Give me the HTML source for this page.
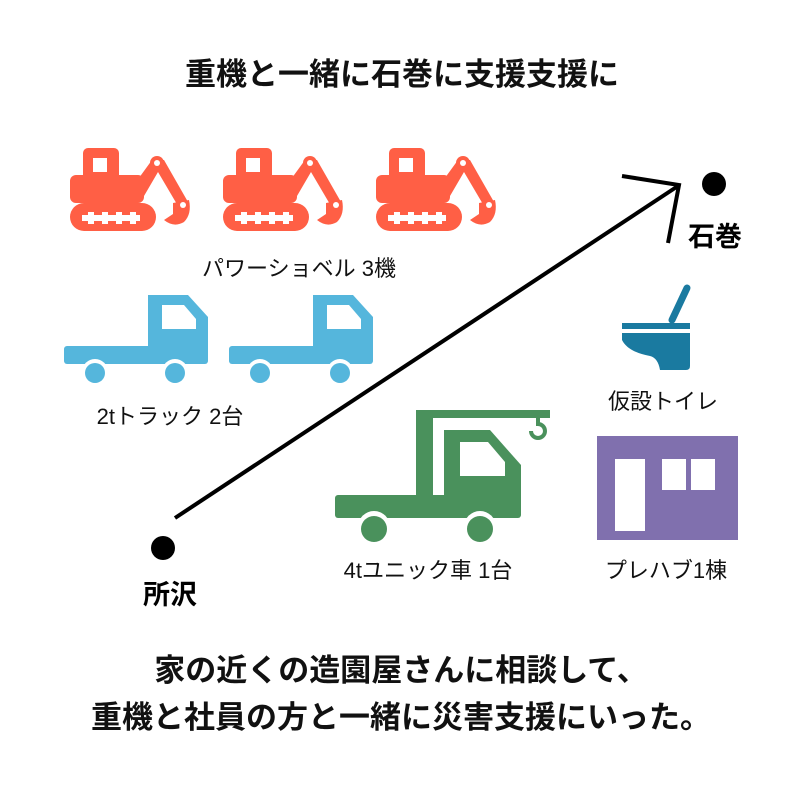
<!DOCTYPE html>
<html><head><meta charset="utf-8"><style>
html,body{margin:0;padding:0;background:#fff;}
svg{display:block}
text{font-family:"Liberation Sans","Noto Sans CJK JP",sans-serif;}
</style></head><body>
<svg width="800" height="800" viewBox="0 0 800 800">
<defs>
<g id="ex">
  <rect x="13" y="0" width="36" height="55" rx="5" fill="#ff5f45"/>
  <rect x="23" y="10" width="14" height="14" fill="#fff"/>
  <rect x="0" y="27" width="74" height="28" rx="6" fill="#ff5f45"/>
  <path d="M66 34 L82 12 L94 12 L118 54 L108 58 L88 24 L74 48 Z" fill="#ff5f45"/>
  <circle cx="87" cy="15" r="7" fill="#ff5f45"/><circle cx="87" cy="15" r="3" fill="#fff"/>
  <path d="M103 55 L119 52 Q122 66 114 74 Q104 80 94 72 L103 66 Z" fill="#ff5f45"/>
  <circle cx="113" cy="57" r="3" fill="#fff"/>
  <rect x="0" y="55" width="86" height="28" rx="14" fill="#ff5f45"/>
  <path d="M12 67 h6 v-3 h6 v3 h8 v-3 h6 v3 h8 v-3 h6 v3 h8 v-3 h6 v3 h4 v6 h-4 v3 h-6 v-3 h-8 v3 h-6 v-3 h-8 v3 h-6 v-3 h-8 v3 h-6 v-3 h-6 Z" fill="#fff"/>
</g>
<g id="tr">
  <path d="M84 0 H124 L144 22 V58 Q144 64 138 64 H84 Z" fill="#55b6dc"/>
  <path d="M98 10 H120 L132 24 V34 H98 Z" fill="#fff"/>
  <rect x="0" y="51" width="144" height="18" rx="3" fill="#55b6dc"/>
  <circle cx="31" cy="77" r="13" fill="#fff"/><circle cx="31" cy="78" r="10" fill="#55b6dc"/>
  <circle cx="111" cy="77" r="13" fill="#fff"/><circle cx="111" cy="78" r="10" fill="#55b6dc"/>
</g>
</defs>
<text x="402" y="85" font-size="31" font-weight="bold" text-anchor="middle" fill="#111">重機と一緒に石巻に支援支援に</text>
<use href="#ex" x="70" y="148"/>
<use href="#ex" x="223" y="148"/>
<use href="#ex" x="376" y="148"/>
<text x="299" y="276" font-size="22" text-anchor="middle" fill="#111">パワーショベル 3機</text>
<use href="#tr" x="64" y="295"/>
<use href="#tr" x="229" y="295"/>
<text x="170" y="424" font-size="22" text-anchor="middle" fill="#111">2tトラック 2台</text>
<g fill="#4a915c">
  <rect x="416" y="410" width="134" height="8"/>
  <rect x="416" y="410" width="17" height="86"/>
  <path d="M444 430 H490 L521 465 V510 Q521 518 514 518 H444 Z"/>
  <rect x="335" y="495" width="186" height="23" rx="3"/>
  <circle cx="374" cy="527" r="16" fill="#fff"/><circle cx="374" cy="529" r="13"/>
  <circle cx="480" cy="527" r="16" fill="#fff"/><circle cx="480" cy="529" r="13"/>
</g>
<path d="M460 442 H488 L505 462 V476 H460 Z" fill="#fff"/>
<path d="M538 418 V424 A7 7 0 1 1 531 431" fill="none" stroke="#4a915c" stroke-width="4"/>
<text x="428" y="578" font-size="22" text-anchor="middle" fill="#111">4tユニック車 1台</text>
<line x1="687" y1="288" x2="672" y2="320" stroke="#1a7aa0" stroke-width="7" stroke-linecap="round"/>
<rect x="622" y="323" width="68" height="6" fill="#1a7aa0"/>
<path d="M622 333 H690 V366 Q690 370 686 370 H660 Q658 358 650 356 Q628 352 622 340 Z" fill="#1a7aa0"/>
<text x="663" y="409" font-size="22" text-anchor="middle" fill="#111">仮設トイレ</text>
<rect x="597" y="436" width="141" height="104" fill="#8070ae"/>
<rect x="615" y="459" width="30" height="72" fill="#fff"/>
<rect x="662" y="459" width="24" height="31" fill="#fff"/>
<rect x="691" y="459" width="24" height="31" fill="#fff"/>
<text x="666" y="578" font-size="22" text-anchor="middle" fill="#111">プレハブ1棟</text>
<line x1="175" y1="518" x2="678" y2="186" stroke="#000" stroke-width="4"/>
<polyline points="622,176 679,185 668,243" fill="none" stroke="#000" stroke-width="4"/>
<circle cx="714" cy="184" r="12" fill="#000"/>
<text x="715" y="246" font-size="27" font-weight="bold" text-anchor="middle" fill="#000">石巻</text>
<circle cx="163" cy="548" r="12" fill="#000"/>
<text x="170" y="604" font-size="27" font-weight="bold" text-anchor="middle" fill="#000">所沢</text>
<text x="401" y="681" font-size="31" font-weight="bold" text-anchor="middle" fill="#111">家の近くの造園屋さんに相談して、</text>
<text x="401" y="728" font-size="31" font-weight="bold" text-anchor="middle" fill="#111">重機と社員の方と一緒に災害支援にいった。</text>
</svg>
</body></html>
